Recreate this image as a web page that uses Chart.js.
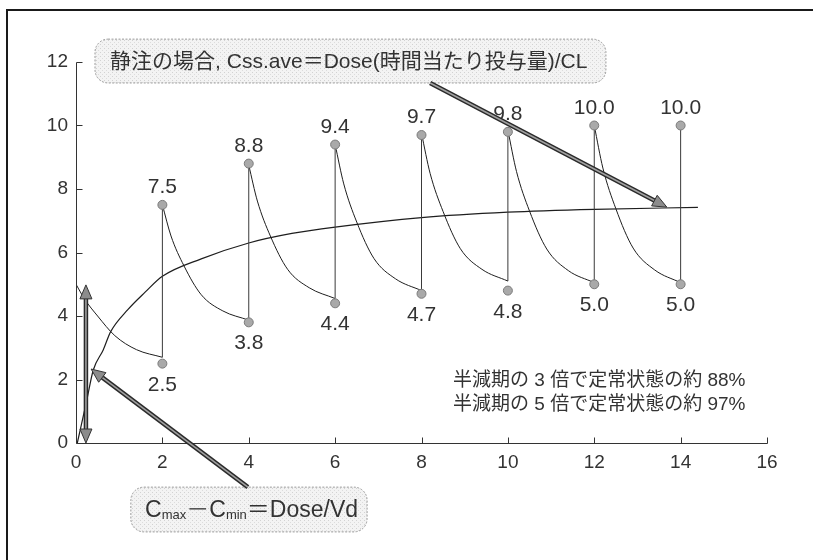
<!DOCTYPE html>
<html>
<head>
<meta charset="utf-8">
<script src="https://cdn.jsdelivr.net/npm/chart.js@4.4.0/dist/chart.umd.min.js"></script>
<style>
  html, body { margin: 0; padding: 0; background: #fff; }
  #wrap { width: 813px; height: 560px; }
</style>
</head>
<body>
<div id="wrap"><canvas id="pkChart" width="813" height="560"></canvas></div>
<script>
// axis ticks
const xTicks = [0, 2, 4, 6, 8, 10, 12, 14, 16];
const yTicks = [0, 2, 4, 6, 8, 10, 12];

// dosing sawtooth
const doseTimes = [0, 2, 4, 6, 8, 10, 12];
const decayOffsets = [0, 0.2, 0.5, 0.9, 1.4, 2.0];
const decay0 = [5.0, 4.53, 4.0, 3.38, 2.94, 2.7];
const decay1 = [7.5, 6.52, 5.58, 4.67, 4.16, 3.87];
const decay2 = [8.75, 7.62, 6.52, 5.47, 4.89, 4.55];
const decay3 = [9.4, 8.16, 6.96, 5.81, 5.17, 4.8];
const decay4 = [9.75, 8.49, 7.29, 6.12, 5.47, 5.1];
const decay5 = [9.85, 8.55, 7.31, 6.11, 5.43, 5.05];
const decay6 = [10.0, 8.66, 7.38, 6.14, 5.45, 5.05];
const decays = [decay0, decay1, decay2, decay3, decay4, decay5, decay6];

// vertical jumps at each dose
const riseTimes = [0, 2, 4, 6, 8, 10, 12, 14];
const riseFrom = [0, 2.7, 3.87, 4.55, 4.8, 5.1, 5.05, 5.0];
const riseTo = [5.0, 7.5, 8.75, 9.4, 9.75, 9.85, 10.0, 10.0];

// labelled peak / trough markers
const markerTimes = [2, 4, 6, 8, 10, 12, 14];
const peakLevels = [7.5, 8.8, 9.4, 9.7, 9.8, 10.0, 10.0];
const troughLevels = [2.5, 3.8, 4.4, 4.7, 4.8, 5.0, 5.0];

// smooth average-concentration curve
const avgTimes = [0.03, 0.25, 0.4, 0.63, 0.8, 1.2, 1.6, 2, 2.9, 4, 5, 6, 8, 10, 12, 14.4];
const avgConc = [0, 1.35, 2.3, 2.93, 3.5, 4.2, 4.75, 5.25, 5.8, 6.3, 6.6, 6.8, 7.1, 7.27, 7.36, 7.42];

// texts
const topNote = '静注の場合, Css.ave＝Dose(時間当たり投与量)/CL';
const sideNotes = ['半減期の 3 倍で定常状態の約 88%', '半減期の 5 倍で定常状態の約 97%'];

const LATIN = '"Liberation Sans", "Noto Sans CJK JP", sans-serif';
const INK = '#333';

const datasets = [];

// peaks and troughs first so they sit on top
datasets.push({
  label: 'peaks',
  data: markerTimes.map((t, i) => ({ x: t, y: peakLevels[i] })),
  showLine: false,
  pointRadius: 4.5,
  pointBackgroundColor: '#a9a9a9',
  pointBorderColor: '#7a7a7a',
  pointBorderWidth: 1
});
datasets.push({
  label: 'troughs',
  data: markerTimes.map((t, i) => ({ x: t, y: troughLevels[i] })),
  showLine: false,
  pointRadius: 4.5,
  pointBackgroundColor: '#a9a9a9',
  pointBorderColor: '#7a7a7a',
  pointBorderWidth: 1
});

decays.forEach((seg, i) => {
  datasets.push({
    label: 'decay' + i,
    data: decayOffsets.map((o, k) => ({ x: doseTimes[i] + o, y: seg[k] })),
    borderColor: '#1e1e1e',
    borderWidth: 1,
    pointRadius: 0,
    cubicInterpolationMode: 'monotone'
  });
});

// vertical lines with gaps between them
const risePoints = [];
riseTimes.forEach((t, i) => {
  risePoints.push({ x: t, y: riseFrom[i] }, { x: t, y: riseTo[i] }, { x: t, y: null });
});
datasets.push({
  label: 'rises',
  data: risePoints,
  borderColor: '#3a3a3a',
  borderWidth: 1,
  pointRadius: 0,
  spanGaps: false
});

datasets.push({
  label: 'average',
  data: avgTimes.map((t, i) => ({ x: t, y: avgConc[i] })),
  borderColor: '#1e1e1e',
  borderWidth: 1.2,
  pointRadius: 0,
  cubicInterpolationMode: 'monotone'
});

function stipple(ctx) {
  const c = document.createElement('canvas');
  c.width = 4; c.height = 4;
  const g = c.getContext('2d');
  g.fillStyle = '#f3f3f3';
  g.fillRect(0, 0, 4, 4);
  g.fillStyle = '#d2d2d2';
  g.fillRect(0, 0, 1, 1);
  g.fillStyle = '#dcdcdc';
  g.fillRect(2, 2, 1, 1);
  return ctx.createPattern(c, 'repeat');
}

function noteBox(ctx, x1, y1, x2, y2) {
  ctx.save();
  ctx.beginPath();
  ctx.roundRect(x1, y1, x2 - x1, y2 - y1, 13);
  ctx.fillStyle = stipple(ctx);
  ctx.fill();
  ctx.setLineDash([2, 1.5]);
  ctx.strokeStyle = '#9a9a9a';
  ctx.lineWidth = 1;
  ctx.stroke();
  ctx.restore();
}

function head(ctx, tx, ty, ang) {
  const len = 14, half = 6;
  const bx = tx - len * Math.cos(ang), by = ty - len * Math.sin(ang);
  ctx.beginPath();
  ctx.moveTo(tx, ty);
  ctx.lineTo(bx - half * Math.sin(ang), by + half * Math.cos(ang));
  ctx.lineTo(bx + half * Math.sin(ang), by - half * Math.cos(ang));
  ctx.closePath();
  ctx.fillStyle = '#8c8c8c';
  ctx.fill();
  ctx.strokeStyle = '#333';
  ctx.lineWidth = 1;
  ctx.stroke();
}

function shaft(ctx, x1, y1, x2, y2) {
  ctx.beginPath();
  ctx.moveTo(x1, y1);
  ctx.lineTo(x2, y2);
  ctx.strokeStyle = '#2a2a2a';
  ctx.lineWidth = 4.5;
  ctx.stroke();
  ctx.strokeStyle = '#a0a0a0';
  ctx.lineWidth = 1.6;
  ctx.stroke();
}

function arrow(ctx, x1, y1, x2, y2) {
  const ang = Math.atan2(y2 - y1, x2 - x1);
  const len = 13;
  shaft(ctx, x1, y1, x2 - len * Math.cos(ang), y2 - len * Math.sin(ang));
  head(ctx, x2, y2, ang);
}

function doubleArrow(ctx, x1, y1, x2, y2) {
  const ang = Math.atan2(y2 - y1, x2 - x1);
  const len = 13;
  shaft(ctx, x1 + len * Math.cos(ang), y1 + len * Math.sin(ang),
        x2 - len * Math.cos(ang), y2 - len * Math.sin(ang));
  head(ctx, x2, y2, ang);
  head(ctx, x1, y1, ang + Math.PI);
}

const decor = {
  id: 'decor',
  afterDraw(chart) {
    const ctx = chart.ctx;
    const xs = chart.scales.x, ys = chart.scales.y;
    const X = v => xs.getPixelForValue(v), Y = v => ys.getPixelForValue(v);
    const area = chart.chartArea;

    ctx.save();

    // axis lines with inward tick marks
    const ax = Math.round(area.left) + 0.5, ay = Math.round(area.bottom) + 0.5;
    ctx.strokeStyle = '#333';
    ctx.lineWidth = 1;
    ctx.beginPath();
    ctx.moveTo(ax, Math.round(Y(12)) + 0.5); ctx.lineTo(ax, ay);
    ctx.lineTo(Math.round(X(16)) + 0.5, ay);
    yTicks.forEach(v => {
      const y = Math.round(Y(v)) + 0.5;
      ctx.moveTo(ax, y); ctx.lineTo(ax + 6, y);
    });
    xTicks.slice(1).forEach(v => {
      const x = Math.round(X(v)) + 0.5;
      ctx.moveTo(x, ay); ctx.lineTo(x, ay - 6);
    });
    ctx.stroke();

    // value labels
    ctx.fillStyle = INK;
    ctx.font = '21px ' + LATIN;
    ctx.textAlign = 'center';
    ctx.textBaseline = 'alphabetic';
    chart.getDatasetMeta(0).data.forEach((p, i) => {
      ctx.fillText(peakLevels[i].toFixed(1), p.x, p.y - 12);
    });
    chart.getDatasetMeta(1).data.forEach((p, i) => {
      ctx.fillText(troughLevels[i].toFixed(1), p.x, p.y + 27);
    });

    // side notes
    ctx.textAlign = 'left';
    ctx.textBaseline = 'middle';
    ctx.font = '19px ' + LATIN;
    ctx.fillText(sideNotes[0], X(8.73), Y(1.95));
    ctx.fillText(sideNotes[1], X(8.73), Y(1.2));

    // top note box and arrow
    noteBox(ctx, X(0.44), Y(12.72), X(12.27), Y(11.34));
    ctx.fillStyle = INK;
    ctx.font = '21px ' + LATIN;
    ctx.fillText(topNote, X(0.79), Y(12.0));
    arrow(ctx, X(8.2), Y(11.34), X(13.68), Y(7.43));

    // bottom note box and arrow
    noteBox(ctx, X(1.27), Y(-1.39), X(6.74), Y(-2.8));
    arrow(ctx, X(3.98), Y(-1.39), X(0.35), Y(2.33));
    let cx = X(1.6);
    const cy = Y(-2.14);
    const parts = [
      ['C', 23, 0, INK], ['max', 13, 4, INK], ['－', 23, 0, '#555'],
      ['C', 23, 0, INK], ['min', 13, 4, INK], ['＝Dose/Vd', 23, 0, INK]
    ];
    parts.forEach(([t, size, dy, col]) => {
      ctx.font = size + 'px ' + LATIN;
      ctx.fillStyle = col;
      ctx.fillText(t, cx, cy + dy);
      cx += ctx.measureText(t).width;
    });

    // Cmax - Cmin double arrow
    doubleArrow(ctx, X(0.23), Y(4.98), X(0.23), Y(0));

    // scan frame
    ctx.beginPath();
    ctx.moveTo(7, 560); ctx.lineTo(7, 10); ctx.lineTo(813, 10);
    ctx.strokeStyle = '#1a1a1a';
    ctx.lineWidth = 2;
    ctx.stroke();

    ctx.restore();
  }
};

new Chart(document.getElementById('pkChart'), {
  type: 'line',
  data: { datasets: datasets },
  options: {
    responsive: false,
    animation: false,
    layout: { padding: { left: 0, top: 62, right: 46, bottom: 0 } },
    plugins: { legend: { display: false }, tooltip: { enabled: false } },
    scales: {
      x: {
        type: 'linear',
        min: 0,
        max: 16,
        afterFit: s => { s.height = 117; },
        afterBuildTicks: s => { s.ticks = xTicks.map(v => ({ value: v })); },
        ticks: { color: '#333', padding: 8, font: { family: LATIN, size: 19 } },
        grid: { display: false, drawTicks: false },
        border: { display: false }
      },
      y: {
        type: 'linear',
        min: 0,
        max: 12,
        afterFit: s => { s.width = 76; },
        afterBuildTicks: s => { s.ticks = yTicks.map(v => ({ value: v })); },
        ticks: { color: '#333', padding: 8, font: { family: LATIN, size: 19 } },
        grid: { display: false, drawTicks: false },
        border: { display: false }
      }
    }
  },
  plugins: [decor]
});
</script>
</body>
</html>
